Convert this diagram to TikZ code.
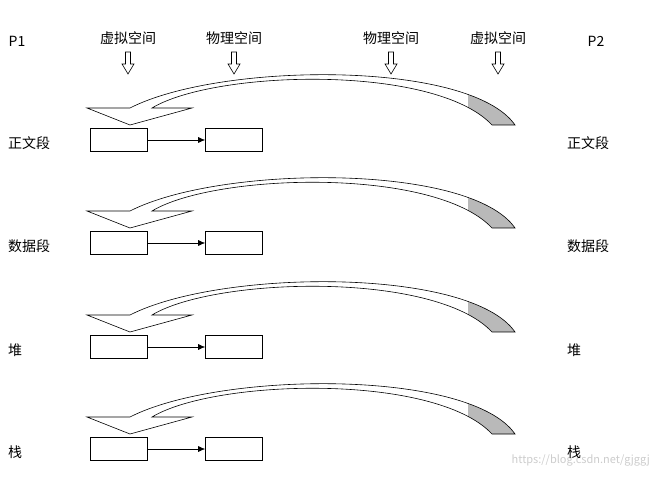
\documentclass[tikz,border=0pt]{standalone}
\usepackage{fontspec}
\setmainfont{Noto Sans CJK SC}
\usetikzlibrary{arrows.meta}
\begin{document}
\begin{tikzpicture}[x=1pt,y=-1pt,
  lbl/.style={font=\fontsize{14}{14}\selectfont,inner sep=0pt},
  mbox/.style={draw,minimum width=57pt,minimum height=23pt,inner sep=0pt,line width=0.7pt},
  conn/.style={-{Latex[length=7pt,width=6pt]},line width=0.6pt},
  ribbon/.style={draw,line width=0.6pt}]
\useasboundingbox (0,0) rectangle (656,478);
\node[lbl,text=gray!40,anchor=east,font=\fontsize{11}{11}\selectfont] (wm) at (650,460) {https://blog.csdn.net/gjggj};
\node[lbl] (p1) at (17,41) {P1};
\node[lbl] (p2) at (596,41) {P2};
\foreach \n/\x/\t in {h1/128/虚拟空间,h2/234/物理空间,h3/391/物理空间,h4/498/虚拟空间}{
  \node[lbl] (\n) at (\x,38) {\t};
  \draw[line width=0.6pt] (\x-2.5,52) -- (\x+2.5,52) -- (\x+2.5,64) -- (\x+6,64) -- (\x,74) -- (\x-6,64) -- (\x-2.5,64) -- cycle;
}
\foreach \i/\dy/\t in {1/0/正文段,2/103/数据段,3/207/堆,4/309/栈}{
  \begin{scope}[yshift=-\dy pt]
    \begin{scope}
      \clip (468,60) rectangle (530,130);
      \fill[gray!55] (152,108) .. controls (215,70) and (435,64) .. (492,125) -- (515,125) .. controls (470,60) and (220,62) .. (130,108) -- cycle;
    \end{scope}
    \draw[ribbon] (87,108) -- (130,125) -- (192,108) -- (152,108) .. controls (215,70) and (435,64) .. (492,125) -- (515,125) .. controls (470,60) and (220,62) .. (130,108) -- cycle;
    \node[mbox] (a\i) at (119,140) {};
    \node[mbox] (b\i) at (234,140) {};
    \draw[conn] (a\i) -- (b\i);
    \node[lbl,anchor=west] (l\i) at (8,143) {\t};
    \node[lbl,anchor=west] (r\i) at (567,143) {\t};
  \end{scope}
}
\end{tikzpicture}
\end{document}
